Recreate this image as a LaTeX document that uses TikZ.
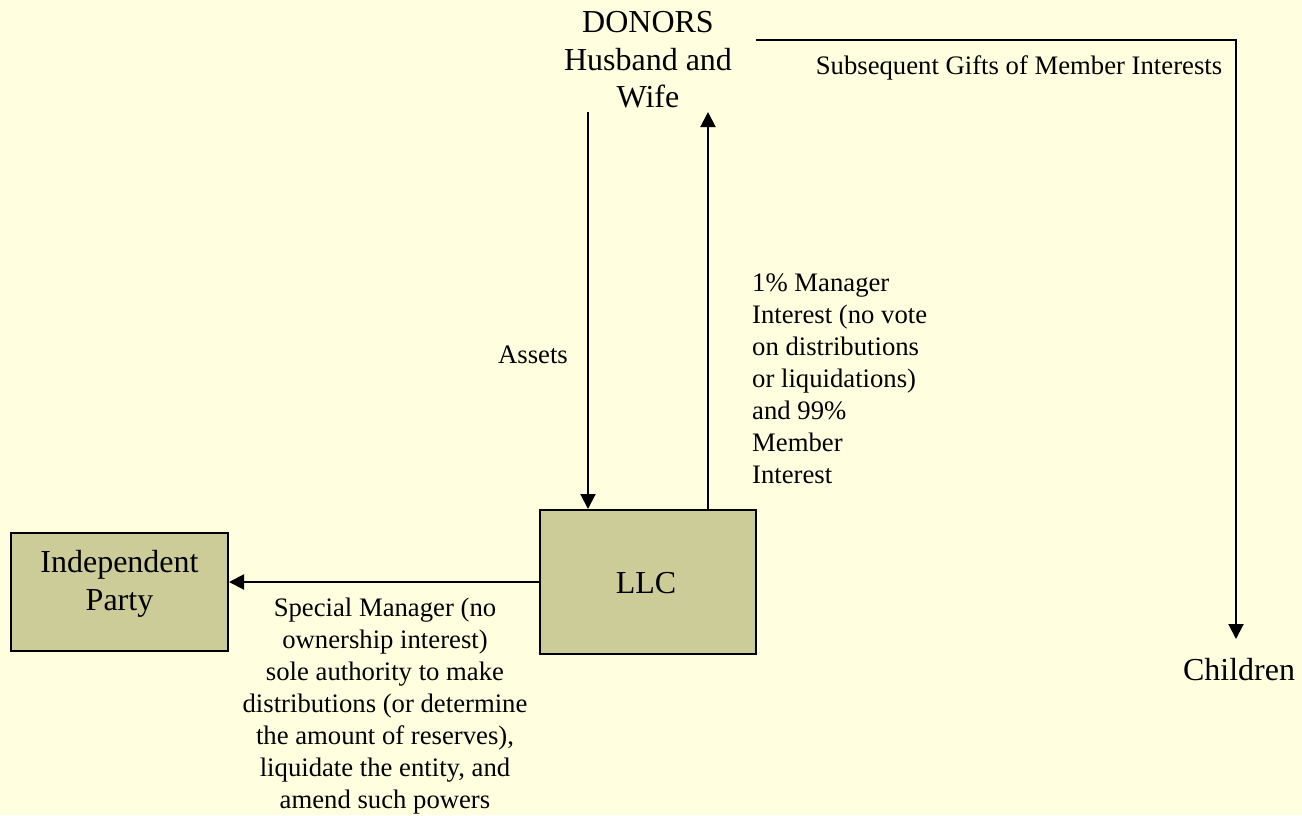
\documentclass[tikz,border=0pt]{standalone}
\usepackage{fontspec}
\setmainfont{Liberation Serif}
\usetikzlibrary{arrows.meta}
\definecolor{bgc}{HTML}{FFFFE0}
\definecolor{boxc}{HTML}{CCCC99}
\begin{document}
\begin{tikzpicture}[x=1pt,y=-1pt,
  boxnode/.style={draw=black,line width=2pt,fill=boxc,inner sep=0pt},
  bigtxt/.style={font=\fontsize{32}{37.5}\selectfont,align=center,inner sep=0pt},
  smalltxt/.style={font=\fontsize{26.7}{32}\selectfont,inner sep=0pt},
  arr/.style={line width=2pt,-{Triangle[length=15pt,width=15pt]}},
  plain/.style={line width=2pt}]
\fill[bgc] (0,0) rectangle (1302,815);
\useasboundingbox (0,0) rectangle (1302,815);
% nodes
\node[bigtxt] (donors) at (648,60) {DONORS\\Husband and\\Wife};
\node[boxnode,minimum width=216pt,minimum height=144pt] (llc) at (648,582) {};
\node[bigtxt] (llctxt) at (646,583) {LLC};
\node[boxnode,minimum width=217pt,minimum height=118pt] (ip) at (119.5,592) {};
\node[bigtxt] (iptxt) at (119.5,584) {Independent\\Party};
\node[bigtxt] (children) at (1239,670) {Children};
% coordinates
\coordinate (a1) at (588,112);
\coordinate (a2) at (708,112);
\coordinate (g0) at (756,40);
\coordinate (g2) at (1236,639);
% connectors
\draw[arr] (a1) -- (a1 |- llc.north);
\draw[arr] (a2 |- llc.north) -- (a2);
\draw[arr] (llc.west) -- (llc.west -| ip.east);
\draw[arr] (g0) -| (g2);
% labels
\node[smalltxt] (lassets) at (533,355) {Assets};
\node[smalltxt,align=left,anchor=west] (lmgr) at (752,379) {1\% Manager\\Interest (no vote\\on distributions\\or liquidations)\\and 99\%\\Member\\Interest};
\node[smalltxt,align=center] (lspecial) at (385,706) {Special Manager (no\\ownership interest)\\sole authority to make\\distributions (or determine\\the amount of reserves),\\liquidate the entity, and\\amend such powers};
\node[smalltxt] (lgifts) at (1019,68) {Subsequent Gifts of Member Interests};
\end{tikzpicture}
\end{document}
